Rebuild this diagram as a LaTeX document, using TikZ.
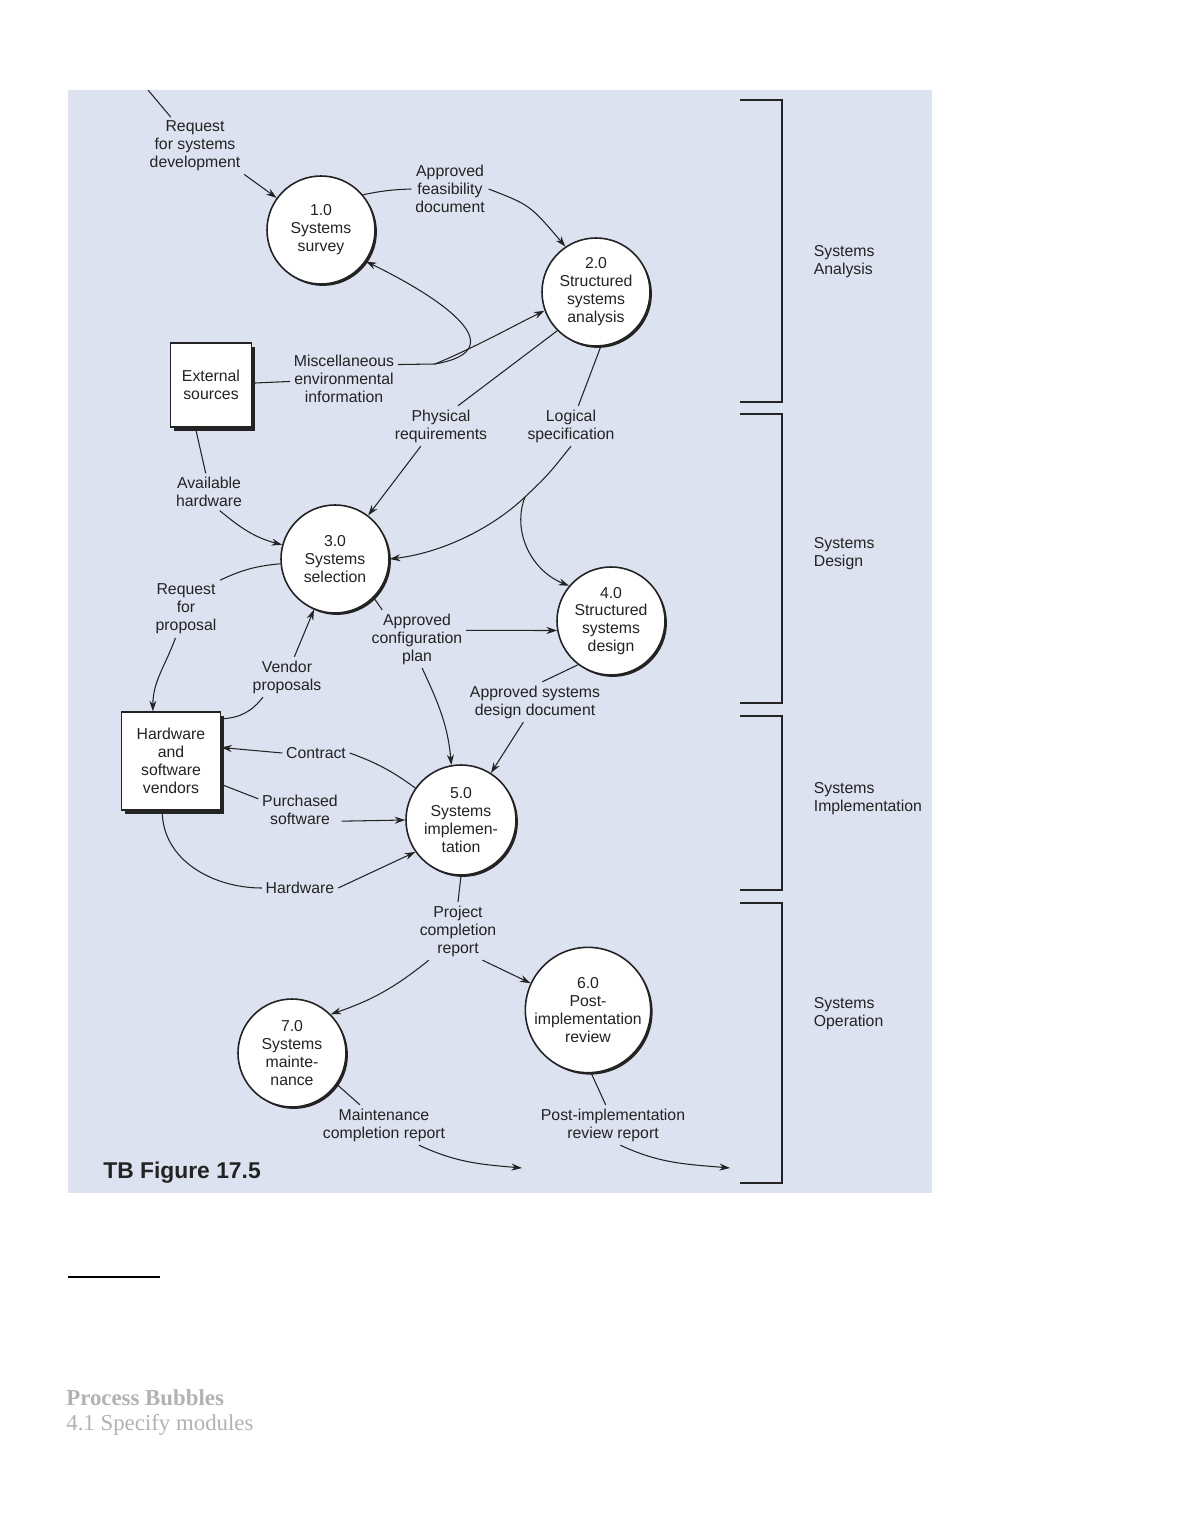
\documentclass[tikz,border=0pt]{standalone}
\usepackage{fontspec}
\setmainfont{Liberation Sans}
\newfontfamily\blurfont{Liberation Serif}
\usetikzlibrary{arrows.meta,shadows}
\newlength{\du}
\setlength{\du}{0.02cm}
\definecolor{panelcolor}{RGB}{221,226,240}
\definecolor{inkcolor}{RGB}{35,35,35}
\tikzset{
  dfdfont/.style={font=\fontsize{9}{10.2}\selectfont},
  bubble/.style={circle,draw=inkcolor,line width=0.9pt,fill=white,minimum size=108\du,inner sep=0pt,align=center,dfdfont,text=inkcolor,
    drop shadow={shadow xshift=1.1pt,shadow yshift=-1.1pt,opacity=1,fill=inkcolor}},
  extbox/.style={rectangle,draw=inkcolor,line width=0.9pt,fill=white,align=center,dfdfont,text=inkcolor,
    drop shadow={shadow xshift=2pt,shadow yshift=-2pt,opacity=1,fill=inkcolor}},
  flowlabel/.style={align=center,dfdfont,inner sep=2pt,text=inkcolor},
  flowarrow/.style={draw=inkcolor,line width=0.6pt,-{Stealth[length=6pt,width=4pt]}},
  dataline/.style={draw=inkcolor,line width=0.6pt},
  phase/.style={draw=inkcolor,line width=0.9pt},
}

\begin{document}
\begin{tikzpicture}[x=1\du,y=-1\du]
\useasboundingbox (0,0) rectangle (1180,1527);
\fill[panelcolor] (68,90) rectangle (932,1193);

% process bubbles
\node[bubble] (s1) at (321,230) {1.0\\Systems\\survey};
\node[bubble] (s2) at (596,292) {2.0\\Structured\\systems\\analysis};
\node[bubble] (s3) at (335,559) {3.0\\Systems\\selection};
\node[bubble] (s4) at (611,621) {4.0\\Structured\\systems\\design};
\node[bubble,minimum size=110\du] (s5) at (461,820) {5.0\\Systems\\implemen-\\tation};
\node[bubble,minimum size=122\du] (s6) at (588,1010) {6.0\\Post-\\implementation\\review};
\node[bubble] (s7) at (292,1053) {7.0\\Systems\\mainte-\\nance};

% external entities
\node[extbox,minimum width=81\du,minimum height=84\du] (ext) at (211,385) {External\\sources};
\node[extbox,minimum width=99\du,minimum height=98\du] (vend) at (171,761) {Hardware\\and\\software\\vendors};

% flow labels
\node[flowlabel] (lreq) at (195,146) {Request\\for systems\\development};
\node[flowlabel] (lfeas) at (450,189) {Approved\\feasibility\\document};
\node[flowlabel] (lmisc) at (344,379) {Miscellaneous\\environmental\\information};
\node[flowlabel] (lphys) at (441,426) {Physical\\requirements};
\node[flowlabel] (llog) at (571,426) {Logical\\specification};
\node[flowlabel] (lavail) at (209,492) {Available\\hardware};
\node[flowlabel] (lrfp) at (186,609) {Request\\for\\proposal};
\node[flowlabel] (lvprop) at (287,677) {Vendor\\proposals};
\node[flowlabel] (lconf) at (417,639) {Approved\\configuration\\plan};
\node[flowlabel] (lsdd) at (535,702) {Approved systems\\design document};
\node[flowlabel] (lcont) at (316,753) {Contract};
\node[flowlabel] (lpurch) at (300,810) {Purchased\\software};
\node[flowlabel] (lhw) at (300,888) {Hardware};
\node[flowlabel] (lproj) at (458,931) {Project\\completion\\report};
\node[flowlabel] (lmaint) at (384,1125) {Maintenance\\completion report};
\node[flowlabel] (lpir) at (613,1125) {Post-implementation\\review report};

\coordinate (reqin) at (148,90);
\coordinate (miscsplit) at (435,364);
\coordinate (logsplit) at (525,497);
\coordinate (maintout) at (522,1168);
\coordinate (pirout) at (730,1168);

% data flows
\draw[dataline] (reqin) -- (lreq.130);
\draw[flowarrow] (lreq.-30) -- (s1);
\draw[dataline] (s1.40) to[bend left=5] (lfeas.west);
\draw[flowarrow] (lfeas.east) .. controls (530,205) .. (s2.124);
\draw[dataline] (ext) -- (lmisc);
\draw[dataline] (lmisc.15) -- (miscsplit);
\draw[flowarrow] (miscsplit) .. controls (515,350) and (445,300) .. (s1.-35);
\draw[flowarrow] (miscsplit) .. controls (480,345) and (515,325) .. (s2.200);
\draw[dataline] (s2.225) -- (lphys.50);
\draw[flowarrow] (lphys.225) -- (s3);
\draw[dataline] (s2.-85) -- (llog.70);
\draw[dataline] (llog.south) .. controls (548,475) .. (logsplit);
\draw[flowarrow] (logsplit) .. controls (490,530) and (440,553) .. (s3.east);
\draw[flowarrow] (logsplit) .. controls (512,530) and (530,570) .. (s4.140);
\draw[dataline] (ext.250) -- (lavail.100);
\draw[flowarrow] (lavail.-60) to[out=-40,in=165] (s3.165);
\draw[dataline] (s3.185) to[bend right=10] (lrfp.north east);
\draw[flowarrow] (lrfp.250) to[out=-110,in=90] (vend.110);
\draw[dataline] (vend.40) to[bend right=25] (lvprop.220);
\draw[flowarrow] (lvprop.70) -- (s3);
\draw[dataline] (s3.-45) -- (lconf.140);
\draw[flowarrow] (lconf.10) -- (s4.190);
\draw[flowarrow] (lconf.-80) to[out=-65,in=95] (s5.100);
\draw[dataline] (s4.233) -- (lsdd.70);
\draw[flowarrow] (lsdd.240) -- (s5);
\draw[dataline] (s5.145) to[bend right=8] (lcont.east);
\draw[flowarrow] (lcont.west) -- (vend.15);
\draw[dataline] (vend.-25) -- (lpurch.165);
\draw[flowarrow] (lpurch.-15) -- (s5.180);
\draw[dataline] (vend.-100) to[out=-90,in=180] (lhw.west);
\draw[flowarrow] (lhw.east) -- (s5.215);
\draw[dataline] (s5.south) -- (lproj.north);
\draw[flowarrow] (lproj.225) to[bend left=10] (s7.45);
\draw[flowarrow] (lproj.-50) -- (s6.155);
\draw[dataline] (s7.-35) -- (lmaint.140);
\draw[flowarrow] (lmaint.-30) to[out=-25,in=175] (maintout);
\draw[dataline] (s6.-87) -- (lpir.110);
\draw[flowarrow] (lpir.-70) to[out=-25,in=175] (pirout);

% life cycle phases
\foreach \ya/\yb in {100/402,414/703,716/890,903/1183}
  \draw[phase] (740,\ya) -- (782,\ya) -- (782,\yb) -- (740,\yb);
\node[flowlabel,anchor=west,align=left] (pana) at (810,262) {Systems\\Analysis};
\node[flowlabel,anchor=west,align=left] (pdes) at (810,554) {Systems\\Design};
\node[flowlabel,anchor=west,align=left] (pimp) at (810,799) {Systems\\Implementation};
\node[flowlabel,anchor=west,align=left] (pope) at (810,1014) {Systems\\Operation};

\node[anchor=west,inner sep=0pt,font=\fontsize{13}{15}\selectfont\bfseries,text=inkcolor] (caption) at (103,1173) {TB Figure 17.5};

\draw[line width=1.3pt] (68,1277) -- (160,1277);
\node[anchor=west,inner sep=0pt,font=\blurfont\fontsize{13}{15}\selectfont\bfseries,text=black!30] (bhead) at (66,1398) {Process Bubbles};
\node[anchor=west,inner sep=0pt,font=\blurfont\fontsize{13}{15}\selectfont,text=black!30] (bline) at (66,1425) {4.1 Specify modules};
\end{tikzpicture}
\end{document}
